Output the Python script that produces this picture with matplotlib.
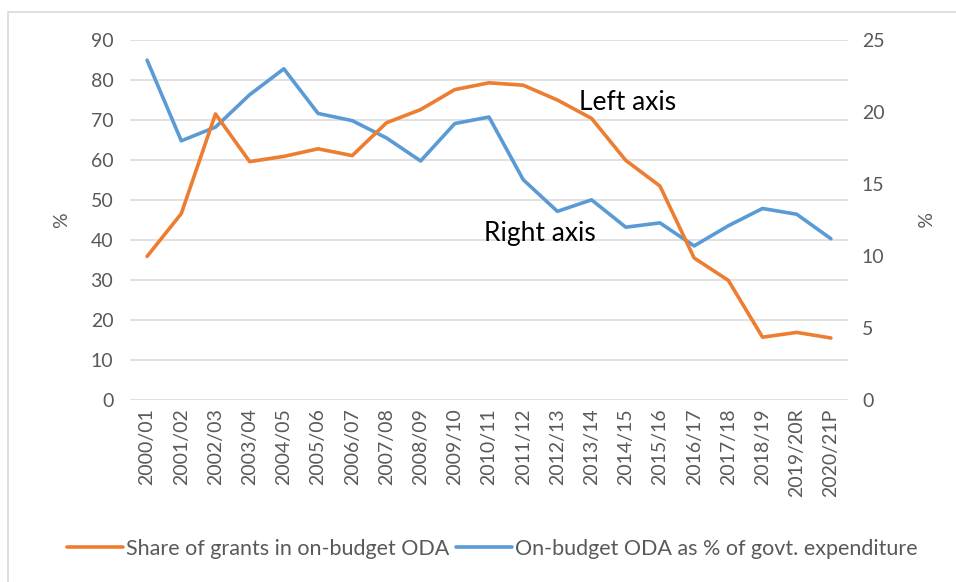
import matplotlib.pyplot as plt
from matplotlib.patches import Rectangle

# =========================
# Data
# =========================
years = ["2000/01", "2001/02", "2002/03", "2003/04", "2004/05", "2005/06",
         "2006/07", "2007/08", "2008/09", "2009/10", "2010/11", "2011/12",
         "2012/13", "2013/14", "2014/15", "2015/16", "2016/17", "2017/18",
         "2018/19", "2019/20R", "2020/21P"]

# left axis (%)
grants_share = [35.9, 46.6, 71.5, 59.6, 60.9, 62.8, 61.1, 69.3, 72.6, 77.6,
                79.3, 78.7, 75.0, 70.4, 59.9, 53.5, 35.5, 29.9, 15.7, 16.9, 15.5]

# right axis (%)
oda_expenditure = [23.6, 18.0, 18.95, 21.2, 23.0, 19.9, 19.4, 18.2, 16.6, 19.2,
                   19.65, 15.3, 13.1, 13.9, 12.0, 12.3, 10.7, 12.1, 13.3, 12.9, 11.2]

left_ticks = list(range(0, 91, 10))
right_ticks = list(range(0, 26, 5))

orange = "#ED7D31"
blue = "#5B9BD5"
grey = "#595959"

plt.rcParams['font.family'] = ['Lato', 'DejaVu Sans']

fig = plt.figure(figsize=(9.56, 5.82), dpi=100)
ax = fig.add_axes([130 / 956, 1 - 400 / 582, 718 / 956, 360 / 582])

x = list(range(len(years)))

# grid + left axis
ax.set_ylim(0, 90)
ax.set_yticks(left_ticks)
ax.set_xlim(-0.5, len(years) - 0.5)
ax.set_xticks(x)
ax.set_xticklabels(years, rotation=90)
ax.grid(axis='y', color="#D9D9D9", linewidth=1.1)
ax.set_axisbelow(True)
for s in ax.spines.values():
    s.set_visible(False)
ax.tick_params(length=0, labelsize=14, labelcolor=grey, pad=12)
ax.tick_params(axis='x', pad=6)
ax.set_ylabel("%", fontsize=14, color=grey)
ax.yaxis.set_label_coords(-0.084, 0.5)

# right axis, blue line
ax2 = ax.twinx()
ax2.set_ylim(0, 25)
ax2.set_yticks(right_ticks)
for s in ax2.spines.values():
    s.set_visible(False)
ax2.tick_params(length=0, labelsize=14, labelcolor=grey, pad=10)
ax2.set_ylabel("%", fontsize=14, color=grey, rotation=270, va='center')
ax2.yaxis.set_label_coords(1.103, 0.5)
l2, = ax2.plot(x, oda_expenditure, color=blue, linewidth=2.6,
               solid_capstyle='round', solid_joinstyle='round',
               label="On-budget ODA as % of govt. expenditure")

# orange line on top, same scale as left axis
ax3 = ax.twinx()
ax3.set_ylim(0, 90)
ax3.axis('off')
l1, = ax3.plot(x, grants_share, color=orange, linewidth=2.6,
               solid_capstyle='round', solid_joinstyle='round',
               label="Share of grants in on-budget ODA")

# annotations
ax3.text(12.64, 74.3, "Left axis", fontsize=19, color="black", ha='left', va='center')
ax3.text(9.84, 41.5, "Right axis", fontsize=19, color="black", ha='left', va='center')

fig.legend(handles=[l1, l2], loc='center', bbox_to_anchor=(0.515, 1 - 549 / 582),
           ncol=2, frameon=False, fontsize=15.5, handlelength=2.6,
           handletextpad=0.15, columnspacing=0.3, labelcolor=grey)

# outer chart frame (cropped at right/bottom)
fig.patches.append(Rectangle((8 / 956, -0.05), 1.1, 1 - 12 / 582 + 0.05,
                             transform=fig.transFigure, fill=False,
                             edgecolor="#D9D9D9", linewidth=1.2))

fig.savefig("out.png", dpi=100)
